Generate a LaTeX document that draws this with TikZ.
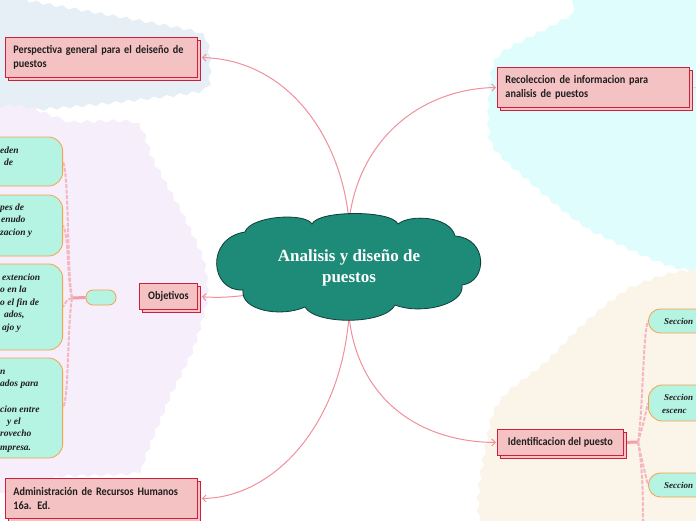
\documentclass[tikz,border=0pt]{standalone}
\usepackage{fontspec}
\usetikzlibrary{shadows,arrows.meta,decorations.pathmorphing}
\newfontfamily\boxfont[FakeStretch=0.89]{Carlito}
\newfontfamily\cloudfont{Liberation Serif}
\newfontfamily\mintfont{Liberation Serif}
\newcommand\myboxspacing{\spaceskip=2.6pt plus 1pt\relax}
\definecolor{bgblue}{HTML}{E6EFF6}
\definecolor{bglav}{HTML}{F6EEFB}
\definecolor{bgcyan}{HTML}{E0FDFD}
\definecolor{bgcream}{HTML}{FAF5E8}
\definecolor{boxpink}{HTML}{F5C2C4}
\definecolor{boxred}{HTML}{CC1E3F}
\definecolor{connpink}{HTML}{F0909C}
\definecolor{branchpink}{HTML}{F49CA8}
\definecolor{dashpink}{HTML}{F5B6C0}
\definecolor{cloudteal}{HTML}{1E8A78}
\definecolor{clouddark}{HTML}{0E3F36}
\definecolor{mintfill}{HTML}{B5F3E2}
\definecolor{mintborder}{HTML}{F5A24A}
\definecolor{inkdark}{HTML}{1E1E1E}
\definecolor{lightblue}{HTML}{BFE6EE}
\pgfdeclarelayer{back}
\pgfdeclarelayer{bg}
\pgfsetlayers{back,bg,main}
\tikzset{
  region/.style={decorate, decoration={snake, amplitude=1.6pt, segment length=13pt}},
  cloudpath/.style={fill=cloudteal, draw=clouddark, line width=0.8pt},
  cloudtext/.style={text=white, align=center, minimum width=262pt, minimum height=104pt, inner sep=0pt,
    font=\cloudfont\bfseries\fontsize{17}{21}\selectfont},
  pinkbox/.style={draw=boxred, fill=boxpink, line width=0.9pt,
    copy shadow={shadow xshift=2.5pt, shadow yshift=-2.5pt},
    font=\boxfont\bfseries\fontsize{11.5}{14}\selectfont\myboxspacing, text=inkdark,
    anchor=north west, inner xsep=8pt, inner ysep=0pt},
  mintbox/.style={draw=mintborder, fill=mintfill, line width=0.8pt, rounded corners=14pt, inner sep=0pt},
  minttext/.style={font=\mintfont\bfseries\itshape\fontsize{9.5}{12.5}\selectfont, text=inkdark, inner sep=0pt, anchor=base west},
  conn/.style={draw=connpink, line width=1pt, -{Straight Barb[length=3.5pt,width=7pt]}},
  stub/.style={draw=branchpink, line width=3pt},
  twig/.style={draw=dashpink, line width=2pt, dash pattern=on 4pt off 1.5pt},
}
\begin{document}
\begin{tikzpicture}[x=1pt,y=-1pt]
\useasboundingbox (0,0) rectangle (696,520);
\clip (0,0) rectangle (696,520);
% background regions
\begin{pgfonlayer}{back}
\fill[white] (0,0) rectangle (696,520);
\fill[bgblue, region] plot[smooth cycle, tension=0.4] coordinates {(-15,-12) (20,-1) (120,17) (196,32) (206,50) (206,84) (190,92) (100,103) (0,112) (-15,115)};
\fill[bglav, region] plot[smooth cycle, tension=0.4] coordinates {(-15,123) (70,122) (133,123) (150,160) (180,215) (201,262) (204,300) (190,350) (167,397) (143,455) (133,473) (60,476) (-15,476)};
\fill[bgcyan, region] plot[smooth cycle, tension=0.4] coordinates {(588,-15) (570,15) (505,50) (493,75) (493,140) (530,178) (600,232) (715,260) (715,-15)};
\fill[bgcream, region] plot[smooth cycle, tension=0.4] coordinates {(715,283) (640,284) (590,320) (547,363) (510,392) (493,425) (493,535) (715,535)};
\end{pgfonlayer}

% central cloud outline
\draw[cloudpath] (243,290) .. controls (210,292) and (205,238) .. (245,232)
  .. controls (250,216) and (305,212) .. (312,224)
  .. controls (318,210) and (392,210) .. (398,224)
  .. controls (410,214) and (450,216) .. (455,236)
  .. controls (488,238) and (488,282) .. (462,285)
  .. controls (465,305) and (420,315) .. (395,305)
  .. controls (385,325) and (315,325) .. (305,307)
  .. controls (280,318) and (240,310) .. cycle;
\node[cloudtext] (c) at (349,268) {Analisis y diseño de\\puestos};

% main topic boxes
\node[pinkbox, text width=176pt, minimum height=40pt] (pers) at (5,37) {Perspectiva general para el deiseño de\\puestos};
\node[pinkbox, text width=176pt, minimum height=40pt] (rec) at (497,67) {Recoleccion de informacion para\\analisis de puestos};
\node[pinkbox, minimum width=58pt, minimum height=26pt, inner xsep=2pt, align=center] (obj) at (139,283) {Objetivos};
\node[pinkbox, minimum width=126pt, minimum height=26pt, inner xsep=2pt, align=center] (ident) at (497,429) {Identificacion del puesto};
\node[pinkbox, text width=176pt, minimum height=40pt] (adm) at (5,478) {Administración de Recursos Humanos\\16a. Ed.};

% small empty node
\node[mintbox, rounded corners=7pt, minimum width=30pt, minimum height=15pt] (sub) at (101,297.5) {};

% left mint nodes
\node[mintbox, anchor=east, minimum width=110pt, minimum height=49pt] (la) at (63,161.5) {};
\node[mintbox, anchor=east, minimum width=110pt, minimum height=61pt] (lb) at (63,225.5) {};
\node[mintbox, anchor=east, minimum width=110pt, minimum height=86pt] (lc) at (63,307) {};
\node[mintbox, anchor=east, minimum width=110pt, minimum height=100pt] (ld) at (63,408) {};

\node[minttext] (la1) at (0,153) {eden};
\node[minttext] (la2) at (4,165) {de};
\node[minttext] (lb1) at (0,210) {pes de};
\node[minttext] (lb2) at (1,222) {enudo};
\node[minttext] (lb3) at (0,235) {zacion y};
\node[minttext] (lc1) at (2,280) {extencion};
\node[minttext] (lc2) at (0,292) {o en la};
\node[minttext] (lc3) at (0,305) {o el fin de};
\node[minttext] (lc4) at (4,317) {ados,};
\node[minttext] (lc5) at (2,330) {ajo y};
\node[minttext] (ld1) at (0,374) {n};
\node[minttext] (ld2) at (0,386) {ados para};
\node[minttext] (ld3) at (0,412) {cion entre};
\node[minttext] (ld4) at (7,424) {y el};
\node[minttext] (ld5) at (0,436) {rovecho};
\node[minttext] (ld6) at (0,450) {mpresa.};

% right mint nodes
\node[mintbox, rounded corners=12pt, anchor=west, minimum width=80pt, minimum height=24pt] (ra) at (648,321) {};
\node[mintbox, rounded corners=14pt, anchor=west, minimum width=80pt, minimum height=36pt] (rb) at (648,403) {};
\node[mintbox, rounded corners=12pt, anchor=west, minimum width=80pt, minimum height=24pt] (rc) at (648,485) {};
\node[minttext, font=\mintfont\bfseries\itshape\fontsize{9}{12}\selectfont] (ra1) at (664,324) {Seccion};
\node[minttext, font=\mintfont\bfseries\itshape\fontsize{9}{12}\selectfont] (rb1) at (664,400) {Seccion};
\node[minttext, font=\mintfont\bfseries\itshape\fontsize{9}{12}\selectfont] (rb2) at (662,413) {escenc};
\node[minttext, font=\mintfont\bfseries\itshape\fontsize{9}{12}\selectfont] (rc1) at (664,488) {Seccion};

\coordinate (lhub) at (72,298);
\coordinate (rhub) at (638,442);
\coordinate (rdown) at (643,525);
\coordinate (recout) at (700,88);

\begin{pgfonlayer}{bg}
% connectors from the centre (under the cloud)
\draw[conn, shorten >=4pt] ([yshift=-6pt]c.north) .. controls (342,140) and (290,60) .. (pers.east);
\draw[conn, shorten >=1pt] ([yshift=-6pt]c.north) .. controls (358,140) and (420,89) .. (rec.west);
\draw[conn, shorten >=4pt] ([xshift=36pt,yshift=-26pt]c.west) .. controls (235,297) and (220,298) .. (obj.east);
\draw[conn, shorten >=1pt] ([yshift=4pt]c.south) .. controls (358,400) and (420,442) .. (ident.west);
\draw[conn, shorten >=4pt] ([yshift=4pt]c.south) .. controls (340,430) and (270,498) .. (adm.east);
\draw[lightblue, line width=1pt] (rec.east) -- (recout);
% left branch
\draw[stub] (sub.west) -- (lhub);
\draw[twig] (lhub) .. controls (67,270) and (69,175) .. (la.east);
\draw[twig] (lhub) .. controls (67,280) and (69,235) .. (lb.east);
\draw[twig] (lhub) .. controls (67,300) .. (lc.east);
\draw[twig] (lhub) .. controls (67,330) and (69,398) .. (ld.east);
% right branch
\draw[stub] (ident.east) -- (rhub);
\draw[twig] (rhub) .. controls (643,410) and (643,332) .. (ra.west);
\draw[twig] (rhub) .. controls (643,425) .. (rb.west);
\draw[twig] (rhub) .. controls (643,465) .. (rc.west);
\draw[twig] (rhub) .. controls (643,470) and (643,500) .. (rdown);
\end{pgfonlayer}
\end{tikzpicture}
\end{document}
